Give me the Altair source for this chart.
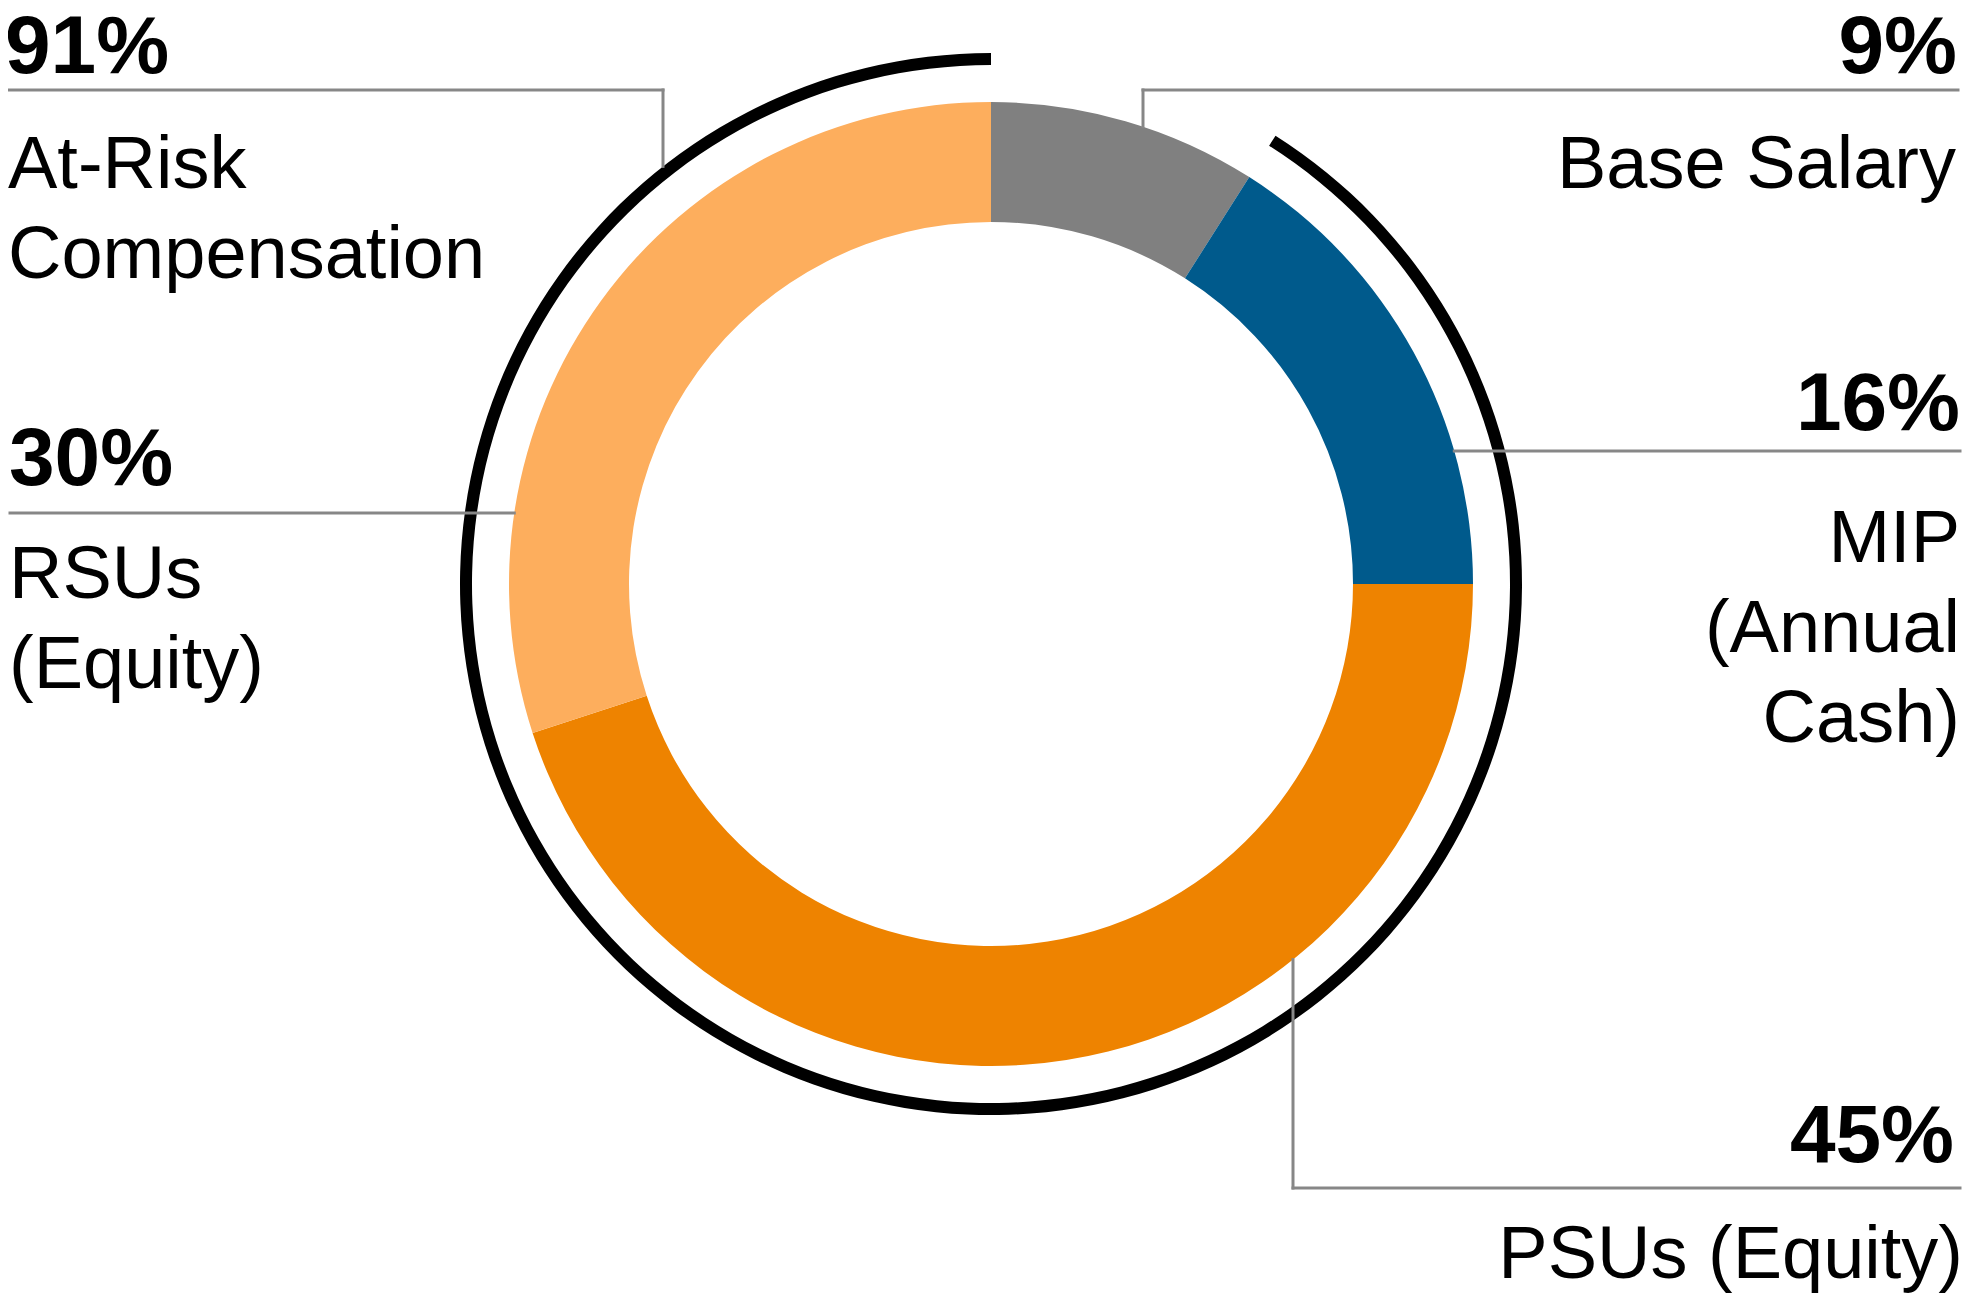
import math
import altair as alt
import pandas as pd

# ---------------- data ----------------
categories = ["Base Salary", "MIP", "PSUs", "RSUs"]
shares = [9, 16, 45, 30]
slice_colors = ["#808080", "#005A8C", "#EE8300", "#FDAE5D"]
at_risk_share = 91

pct_texts = ["91%", "9%", "16%", "30%", "45%"]
name_texts = [
    ["At-Risk", "Compensation"],
    ["Base Salary"],
    ["MIP", "(Annual", "Cash)"],
    ["RSUs", "(Equity)"],
    ["PSUs (Equity)"],
]

# ---------------- layout ----------------
W, H = 1964, 1288
CX, CY = 983, 576
R_OUT, R_IN = 482, 362
BR_IN, BR_OUT = 519, 531
LINE_GAP = 90
FONT = "Liberation Sans"
LINE_COLOR = "#878787"

# label anchors: (align, pct x, pct baseline, name x, first name baseline)
anchors = [
    ("left", -3, 65, 0, 180),
    ("right", 1949, 65, 1948, 180),
    ("right", 1952, 422, 1952, 554),
    ("left", 1, 477, 1, 590),
    ("right", 1946, 1154, 1955, 1270),
]


def cx_at(r, y, side):
    return CX + side * math.sqrt(r * r - (y - CY) ** 2)


def cy_at(r, x, side):
    return CY + side * math.sqrt(r * r - (x - CX) ** 2)


segments = [
    (0, 82, 655, 82),
    (655, 82, 655, cy_at(BR_OUT, 655, -1)),
    (1135, 82, 1950, 82),
    (1135, 82, 1135, cy_at(R_OUT, 1135, -1)),
    (cx_at(R_OUT, 443, 1), 443, 1952, 443),
    (2, 505, cx_at(R_OUT, 505, -1), 505),
    (1285, cy_at(R_OUT, 1285, 1), 1285, 1180),
    (1285, 1180, 1952, 1180),
]

# ---------------- tables ----------------
donut_df = pd.DataFrame({
    "category": categories,
    "share": shares,
    "order": list(range(len(categories))),
})
risk_df = pd.DataFrame({"start": [100 - at_risk_share], "end": [100]})
seg_df = pd.DataFrame(segments, columns=["x", "y", "x2", "y2"])

pct_rows, name_rows = [], []
for (align, px, py, nx, ny), pt, names in zip(anchors, pct_texts, name_texts):
    pct_rows.append({"text": pt, "x": px, "y": py, "align": align})
    for i, nm in enumerate(names):
        name_rows.append({"text": nm, "x": nx, "y": ny + i * LINE_GAP, "align": align})
pct_df = pd.DataFrame(pct_rows)
name_df = pd.DataFrame(name_rows)

theta_scale = alt.Scale(domain=[0, 100])

donut = alt.Chart(donut_df).mark_arc(radius=R_OUT, radius2=R_IN).encode(
    theta=alt.Theta("share:Q", stack=True, scale=theta_scale),
    color=alt.Color("category:N",
                    scale=alt.Scale(domain=categories, range=slice_colors),
                    legend=None),
    order=alt.Order("order:Q"),
    x=alt.value(CX),
    y=alt.value(CY),
)

risk_arc = alt.Chart(risk_df).mark_arc(radius=BR_OUT, radius2=BR_IN, color="#000000").encode(
    theta=alt.Theta("start:Q", scale=theta_scale),
    theta2="end:Q",
    x=alt.value(CX),
    y=alt.value(CY),
)

leaders = alt.Chart(seg_df).mark_rule(
    color=LINE_COLOR, strokeWidth=3, strokeCap="square"
).encode(
    x=alt.X("x:Q", scale=None, axis=None),
    y=alt.Y("y:Q", scale=None, axis=None),
    x2="x2:Q",
    y2="y2:Q",
)


def text_layer(df, align, bold):
    sub = df[df["align"] == align]
    return alt.Chart(sub).mark_text(
        align=align,
        baseline="alphabetic",
        font=FONT,
        fontSize=82 if bold else 74,
        fontWeight="bold" if bold else "normal",
        color="#000000",
    ).encode(
        x=alt.X("x:Q", scale=None, axis=None),
        y=alt.Y("y:Q", scale=None, axis=None),
        text="text:N",
    )


chart = alt.layer(
    donut,
    risk_arc,
    leaders,
    text_layer(pct_df, "left", True),
    text_layer(pct_df, "right", True),
    text_layer(name_df, "left", False),
    text_layer(name_df, "right", False),
).properties(
    width=W,
    height=H,
    padding=0,
    autosize=alt.AutoSizeParams(type="none"),
    background="#ffffff",
).configure_view(stroke=None)

chart.save("out.html", embed_options={"renderer": "svg", "actions": False})
